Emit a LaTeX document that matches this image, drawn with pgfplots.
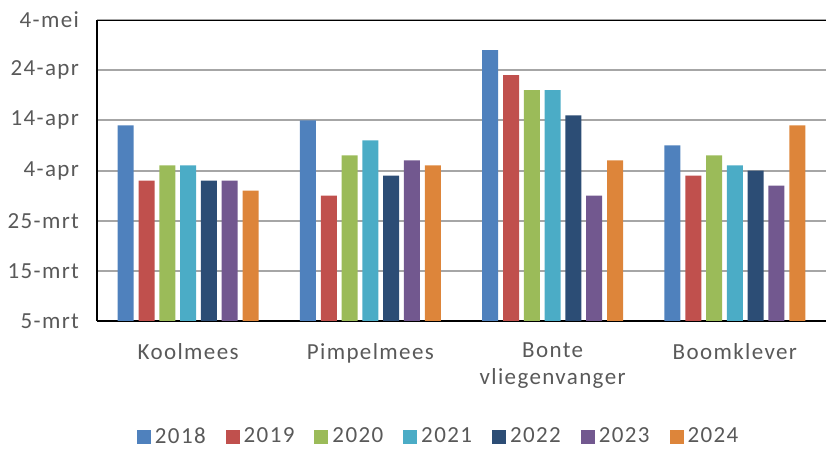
\documentclass[border=0pt]{standalone}
\usepackage{pgfplots}
\pgfplotsset{compat=1.18}
\usepackage{fontspec}
\setmainfont{Carlito}[LetterSpace=6]
\definecolor{c18}{HTML}{4F81BD}
\definecolor{c19}{HTML}{C0504D}
\definecolor{c20}{HTML}{9BBB59}
\definecolor{c21}{HTML}{4BACC6}
\definecolor{c22}{HTML}{2C4D75}
\definecolor{c23}{HTML}{72588F}
\definecolor{c24}{HTML}{DD853A}
\definecolor{txt}{HTML}{595959}
\definecolor{grd}{HTML}{A6A6A6}
\begin{document}
\begin{tikzpicture}
\begin{axis}[
  scale only axis,
  width=364.5pt, height=150.5pt,
  xmin=-0.5, xmax=3.5, ymin=0, ymax=60,
  axis x line*=bottom, axis y line*=left,
  axis line style={black, line width=0.75pt},
  major tick length=0pt,
  xtick={0,1,2,3},
  xticklabels={Koolmees,Pimpelmees,{Bonte\\vliegenvanger},Boomklever},
  xticklabel style={align=center, anchor=north, font=\fontsize{11.5}{13.5}\selectfont, text=txt, yshift=-7.5pt},
  ytick={0,10,20,30,40,50,60},
  yticklabels={5-mrt,15-mrt,25-mrt,4-apr,14-apr,24-apr,4-mei},
  yticklabel style={anchor=east, font=\fontsize{11.5}{13.5}\selectfont, text=txt, xshift=-5.5pt},
  ymajorgrids, grid style={grd, line width=1pt},
  ybar=2.4pt, bar width=8pt,
  legend columns=7,
  legend style={draw=none, at={(0.47,-0.385)}, anchor=center, font=\fontsize{11.5}{13.5}\selectfont, text=txt,
    /tikz/every even column/.append style={column sep=8pt}, nodes={inner xsep=2pt}},
  legend image code/.code={\fill[#1] (0pt,-3.5pt) rectangle (7pt,3.5pt);},
]
\addplot[fill=c18, draw=none] coordinates {(0,39) (1,40) (2,54) (3,35)};
\addplot[fill=c19, draw=none] coordinates {(0,28) (1,25) (2,49) (3,29)};
\addplot[fill=c20, draw=none] coordinates {(0,31) (1,33) (2,46) (3,33)};
\addplot[fill=c21, draw=none] coordinates {(0,31) (1,36) (2,46) (3,31)};
\addplot[fill=c22, draw=none] coordinates {(0,28) (1,29) (2,41) (3,30)};
\addplot[fill=c23, draw=none] coordinates {(0,28) (1,32) (2,25) (3,27)};
\addplot[fill=c24, draw=none] coordinates {(0,26) (1,31) (2,32) (3,39)};
\legend{2018,2019,2020,2021,2022,2023,2024}
\draw[black, line width=0.75pt] (rel axis cs:0,1) -- (rel axis cs:1,1);
\end{axis}
\pgfresetboundingbox
\path (-48.5pt,-64pt) rectangle (365pt,160.5pt);
\end{tikzpicture}
\end{document}
